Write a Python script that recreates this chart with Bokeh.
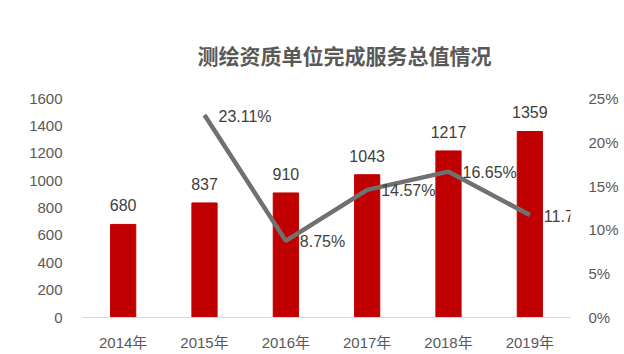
from bokeh.plotting import figure
from bokeh.models import (ColumnDataSource, LinearAxis, Range1d, FixedTicker,
                          NumeralTickFormatter, Title, LabelSet, Label)
from bokeh.core.properties import value
from bokeh.embed import file_html
from bokeh.resources import INLINE

years = ["2014年", "2015年", "2016年", "2017年", "2018年", "2019年"]
values = [680, 837, 910, 1043, 1217, 1359]
growth_years = ["2015年", "2016年", "2017年", "2018年", "2019年"]
growth = [0.2311, 0.0875, 0.1457, 0.1665, 0.1170]
growth_labels = ["23.11%", "8.75%", "14.57%", "16.65%", "11.70%"]
left_ticks = [0, 200, 400, 600, 800, 1000, 1200, 1400, 1600]
right_ticks = [0, 0.05, 0.10, 0.15, 0.20, 0.25]
title_text = "测绘资质单位完成服务总值情况"

FONT = "'Liberation Sans', 'Noto Sans CJK SC', sans-serif"
TXT = "#595959"

bar_src = ColumnDataSource(dict(x=years, top=values, label=[str(v) for v in values]))
line_src = ColumnDataSource(dict(x=growth_years, y=growth, label=growth_labels))

p = figure(width=624, height=354, x_range=years, y_range=Range1d(0, 1600),
           output_backend="svg", toolbar_location=None,
           min_border_left=82, min_border_right=54, min_border_top=98,
           min_border_bottom=37)
p.outline_line_color = None
p.background_fill_color = "white"
p.border_fill_color = "white"
p.xgrid.visible = False
p.ygrid.visible = False

p.extra_y_ranges = {"pct": Range1d(0, 0.25)}

p.vbar(x="x", top="top", width=0.31, source=bar_src, color="#C00000")
bar_labels = LabelSet(x="x", y="top", text="label", source=bar_src,
                      text_align="center", text_baseline="bottom", y_offset=13,
                      text_font_size="16px", text_color="#404040",
                      text_font=value(FONT))
p.add_layout(bar_labels)

p.line(x="x", y="y", source=line_src, y_range_name="pct",
       line_color="#707070", line_width=4.5)
for gx, gy, gl in zip(growth_years, growth, growth_labels):
    xpos = years.index(gx) + 0.5  # synthetic coordinate of the category centre
    p.add_layout(Label(x=xpos, y=gy, text=gl, y_range_name="pct",
                       text_align="left", text_baseline="middle",
                       x_offset=14, y_offset=-1, text_font_size="16px",
                       text_color="#404040", text_font=FONT))

# left axis
ya = p.yaxis[0]
ya.ticker = FixedTicker(ticks=left_ticks)
ya.axis_line_color = None
ya.major_tick_line_color = None
ya.minor_tick_line_color = None
ya.major_label_text_font_size = "15px"
ya.major_label_text_color = TXT
ya.major_label_text_font = FONT
ya.major_label_standoff = 14

# right axis
ra = LinearAxis(y_range_name="pct", ticker=FixedTicker(ticks=right_ticks),
                formatter=NumeralTickFormatter(format="0%"))
ra.axis_line_color = None
ra.major_tick_line_color = None
ra.minor_tick_line_color = None
ra.major_label_text_font_size = "15px"
ra.major_label_text_color = TXT
ra.major_label_text_font = FONT
ra.major_label_standoff = 12
p.add_layout(ra, "right")

# bottom axis
xa = p.xaxis[0]
xa.axis_line_color = "#D9D9D9"
xa.axis_line_width = 1
xa.major_tick_line_color = None
xa.minor_tick_line_color = None
xa.major_label_text_font_size = "15px"
xa.major_label_text_color = TXT
xa.major_label_text_font = FONT
xa.major_label_standoff = 10

t = Title(text=title_text, align="left", text_font_size="21px",
          text_font="'Noto Sans CJK SC', sans-serif", text_font_style="bold",
          text_color=TXT, offset=115, standoff=57)
p.add_layout(t, "above")

open("out.html", "w").write(file_html(p, INLINE))
